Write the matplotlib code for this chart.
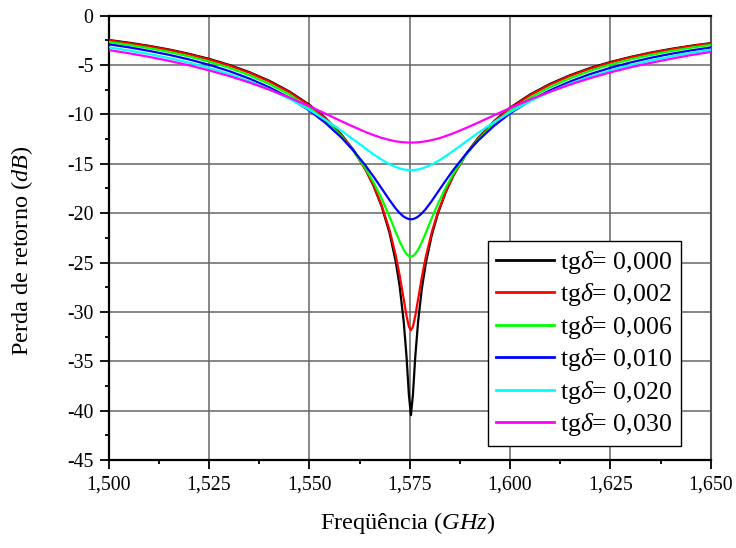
import matplotlib
matplotlib.use("Agg")
import matplotlib.pyplot as plt
from matplotlib.ticker import MultipleLocator, FuncFormatter

plt.rcParams['font.family'] = ['Liberation Serif', 'DejaVu Serif']
plt.rcParams['mathtext.fontset'] = 'custom'
plt.rcParams['mathtext.rm'] = 'Liberation Serif'
plt.rcParams['mathtext.it'] = 'Liberation Serif:italic'
plt.rcParams['mathtext.bf'] = 'Liberation Serif:bold'
plt.rcParams['axes.unicode_minus'] = False

freq = [1.5000, 1.5050, 1.5100, 1.5150, 1.5200, 1.5250, 1.5300, 1.5350, 1.5400, 1.5450,
        1.5500, 1.5540, 1.5580, 1.5610, 1.5640, 1.5660, 1.5680, 1.5700, 1.5715, 1.5725,
        1.5735, 1.5742, 1.5748, 1.5753, 1.5758, 1.5764, 1.5771, 1.5780, 1.5790, 1.5805,
        1.5820, 1.5840, 1.5860, 1.5890, 1.5920, 1.5960, 1.6000, 1.6050, 1.6100, 1.6150,
        1.6200, 1.6250, 1.6300, 1.6350, 1.6400, 1.6450, 1.6500]

s11_000 = [-2.46, -2.73, -3.05, -3.42, -3.86, -4.37, -4.98, -5.71, -6.59, -7.67,
           -9.02, -10.36, -12.04, -13.61, -15.58, -17.24, -19.30, -22.03, -24.86, -27.41,
           -30.95, -34.48, -38.39, -40.46, -38.39, -34.48, -30.96, -27.72, -25.10, -22.22,
           -20.07, -17.85, -16.10, -14.04, -12.41, -10.69, -9.32, -7.98, -6.90, -6.02,
           -5.29, -4.69, -4.18, -3.74, -3.37, -3.05, -2.78]
s11_002 = [-2.50, -2.78, -3.10, -3.47, -3.91, -4.43, -5.04, -5.77, -6.66, -7.74,
           -9.08, -10.42, -12.09, -13.65, -15.59, -17.20, -19.19, -21.75, -24.25, -26.31,
           -28.69, -30.39, -31.50, -31.85, -31.50, -30.39, -28.70, -26.54, -24.45, -21.92,
           -19.92, -17.80, -16.10, -14.07, -12.46, -10.75, -9.39, -8.05, -6.97, -6.08,
           -5.35, -4.74, -4.22, -3.78, -3.41, -3.08, -2.81]
s11_006 = [-2.66, -2.95, -3.28, -3.67, -4.12, -4.65, -5.27, -6.02, -6.91, -7.99,
           -9.32, -10.63, -12.23, -13.70, -15.48, -16.89, -18.52, -20.39, -21.89, -22.86,
           -23.70, -24.12, -24.34, -24.40, -24.34, -24.12, -23.70, -22.96, -22.00, -20.50,
           -19.08, -17.39, -15.93, -14.10, -12.59, -10.95, -9.62, -8.30, -7.22, -6.33,
           -5.58, -4.95, -4.43, -3.98, -3.59, -3.25, -2.96]
s11_010 = [-2.90, -3.20, -3.56, -3.96, -4.43, -4.97, -5.61, -6.36, -7.25, -8.31,
           -9.61, -10.86, -12.35, -13.67, -15.18, -16.30, -17.49, -18.69, -19.52, -19.99,
           -20.35, -20.51, -20.60, -20.62, -20.60, -20.51, -20.35, -20.03, -19.58, -18.76,
           -17.87, -16.68, -15.55, -14.01, -12.67, -11.16, -9.90, -8.61, -7.55, -6.66,
           -5.91, -5.28, -4.74, -4.27, -3.87, -3.52, -3.22]
s11_020 = [-3.20, -3.52, -3.88, -4.29, -4.76, -5.30, -5.92, -6.63, -7.46, -8.42,
           -9.53, -10.54, -11.66, -12.55, -13.45, -14.04, -14.58, -15.05, -15.32, -15.46,
           -15.57, -15.61, -15.63, -15.64, -15.63, -15.61, -15.57, -15.48, -15.34, -15.07,
           -14.74, -14.22, -13.65, -12.76, -11.88, -10.78, -9.77, -8.66, -7.71, -6.88,
           -6.17, -5.55, -5.01, -4.54, -4.13, -3.77, -3.45]
s11_030 = [-3.48, -3.80, -4.16, -4.57, -5.02, -5.54, -6.11, -6.76, -7.49, -8.29,
           -9.17, -9.92, -10.69, -11.25, -11.78, -12.10, -12.37, -12.59, -12.72, -12.78,
           -12.82, -12.84, -12.85, -12.85, -12.85, -12.84, -12.82, -12.78, -12.72, -12.60,
           -12.45, -12.19, -11.89, -11.38, -10.84, -10.09, -9.35, -8.49, -7.70, -6.97,
           -6.32, -5.74, -5.23, -4.78, -4.37, -4.00, -3.67]

series = [s11_000, s11_002, s11_006, s11_010, s11_020, s11_030]
labels = ["0,000", "0,002", "0,006", "0,010", "0,020", "0,030"]
colors = ["#000000", "#ff0000", "#00ff00", "#0000ff", "#00ffff", "#ff00ff"]

fig = plt.figure(figsize=(7.36, 5.48), dpi=100)
ax = fig.add_axes([108.7/736, 1 - 460/548, 602/736, 444.3/548])

for ys, lab, c in zip(series, labels, colors):
    ax.plot(freq, ys, color=c, lw=1.6, label=r"tg$\delta$= " + lab, zorder=3)

ax.set_xlim(1.5, 1.65)
ax.set_ylim(-45, 0)
ax.xaxis.set_major_locator(MultipleLocator(0.025))
ax.xaxis.set_minor_locator(MultipleLocator(0.0125))
ax.yaxis.set_major_locator(MultipleLocator(5))
ax.yaxis.set_minor_locator(MultipleLocator(2.5))
ax.xaxis.set_major_formatter(FuncFormatter(lambda v, p: ("%.3f" % v).replace(".", ",")))
ax.yaxis.set_major_formatter(FuncFormatter(lambda v, p: "%d" % round(v)))

ax.grid(True, which="major", color="#666666", lw=1.1, zorder=1)
ax.tick_params(which="both", direction="out", top=False, right=False, width=1.3,
               labelsize=14.3, colors="black", pad=4.2)
ax.tick_params(which="major", length=6.7)
ax.tick_params(which="minor", length=3.1)
for side in ["left", "bottom", "top"]:
    ax.spines[side].set_linewidth(1.6)
    ax.spines[side].set_color("black")
ax.spines["right"].set_linewidth(1.5)
ax.spines["right"].set_color("#555555")

ax.set_xlabel(r"Freqüência ($\mathit{GHz}$)", fontsize=17.5)
ax.xaxis.set_label_coords(0.497, -0.112)
ax.set_ylabel(r"Perda de retorno ($\mathit{dB}$)", fontsize=17.5)
ax.yaxis.set_label_coords(-0.122, 0.47)

leg = ax.legend(loc="upper left", bbox_to_anchor=((487.7 - 108.7)/602, (460 - 240.7)/444.3),
                borderaxespad=0, fontsize=18.5, fancybox=False, framealpha=1,
                edgecolor="black", handlelength=2.25, handletextpad=0.26,
                labelspacing=0.21, borderpad=0.32)
leg.get_frame().set_linewidth(1.0)
for l in leg.get_lines():
    l.set_linewidth(2.0)

fig.savefig("out.png", dpi=100)
